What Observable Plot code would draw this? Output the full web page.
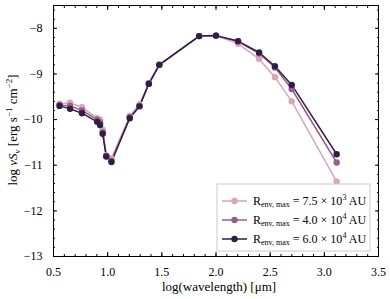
<!DOCTYPE html>
<html>
<head>
<meta charset="utf-8">
<script src="https://cdn.jsdelivr.net/npm/d3@7"></script>
<script src="https://cdn.jsdelivr.net/npm/@observablehq/plot@0.6"></script>
<style>
  body { margin: 0; background: white; }
  #chart { position: relative; width: 390px; height: 299px; }
</style>
</head>
<body>
<div id="chart"></div>
<script>
// log(wavelength) [μm]
const logWave = [0.556, 0.653, 0.763, 0.903, 0.930, 0.954, 0.987, 1.035, 1.204, 1.294, 1.380, 1.477, 1.845, 2.000, 2.204, 2.398, 2.544, 2.699, 3.114];
// log νSν for each model
const sedSmall = [-9.655, -9.63, -9.73, -9.97, -10.00, -10.22, -10.78, -10.85, -9.92, -9.67, -9.20, -8.79, -8.17, -8.16, -8.34, -8.67, -9.07, -9.60, -11.36];
const sedMid   = [-9.68, -9.70, -9.80, -10.00, -10.06, -10.28, -10.80, -10.90, -9.95, -9.70, -9.215, -8.80, -8.17, -8.16, -8.29, -8.55, -8.86, -9.33, -10.94];
const sedLarge = [-9.70, -9.765, -9.86, -10.05, -10.12, -10.31, -10.81, -10.93, -9.97, -9.71, -9.215, -8.80, -8.17, -8.16, -8.28, -8.53, -8.83, -9.24, -10.76];
const seriesNames = ["7.5e3", "4.0e4", "6.0e4"];
const legendMantissa = ["7.5", "4.0", "6.0"];
const legendExponent = ["3", "4", "4"];
const seriesColors = ["#d9a6b2", "#9a5b8d", "#2f1f47"];
const xMajor = [0.5, 1.0, 1.5, 2.0, 2.5, 3.0, 3.5];
const yMajor = [-13, -12, -11, -10, -9, -8];
const xMinor = d3.range(5, 36).map(d => d / 10);
const yMinor = d3.range(-65, -37).map(d => d / 5);

const allSeries = [sedSmall, sedMid, sedLarge];
const data = [];
allSeries.forEach((vals, i) => vals.forEach((v, j) => data.push({series: seriesNames[i], x: logWave[j], y: v})));

const font = "'Liberation Serif', 'DejaVu Serif', serif";
const blank = () => "";

const plot = Plot.plot({
  width: 390, height: 299,
  marginLeft: 53, marginRight: 12, marginTop: 5, marginBottom: 43,
  style: {fontFamily: font, fontSize: "12px", background: "white", color: "black"},
  x: {domain: [0.5, 3.5]},
  y: {domain: [-13, -7.5]},
  color: {domain: seriesNames, range: seriesColors},
  marks: [
    Plot.axisX({ticks: xMajor, tickSize: -4, tickPadding: 15, tickFormat: d3.format(".1f"), label: null}),
    Plot.axisX({ticks: xMinor, tickSize: -2, tickFormat: blank, label: null}),
    Plot.axisX({anchor: "top", ticks: xMajor, tickSize: -4, tickFormat: blank, label: null}),
    Plot.axisX({anchor: "top", ticks: xMinor, tickSize: -2, tickFormat: blank, label: null}),
    Plot.axisY({ticks: yMajor, tickSize: -4, tickPadding: 15, tickFormat: d3.format("d"), label: null}),
    Plot.axisY({ticks: yMinor, tickSize: -2, tickFormat: blank, label: null}),
    Plot.axisY({anchor: "right", ticks: yMajor, tickSize: -4, tickFormat: blank, label: null}),
    Plot.axisY({anchor: "right", ticks: yMinor, tickSize: -2, tickFormat: blank, label: null}),
    Plot.line(data, {x: "x", y: "y", z: "series", stroke: "series", strokeWidth: 1.5}),
    Plot.dot(data, {x: "x", y: "y", fill: "series", r: 3.2}),
    Plot.frame({stroke: "black", strokeWidth: 1})
  ]
});
document.getElementById("chart").appendChild(plot);

const svg = d3.select(plot);
// Axis labels
svg.append("text")
  .attr("x", 219).attr("y", 291)
  .attr("text-anchor", "middle")
  .attr("font-family", font).attr("font-size", 13)
  .text("log(wavelength) [μm]");

const yl = svg.append("text")
  .attr("transform", "translate(17,130) rotate(-90)")
  .attr("text-anchor", "middle")
  .attr("font-family", font).attr("font-size", 13);
yl.append("tspan").text("log ");
yl.append("tspan").text("ν").attr("font-style", "italic");
yl.append("tspan").text("S").attr("font-style", "italic");
yl.append("tspan").text("ν").attr("font-style", "italic").attr("font-size", 9).attr("dy", 3);
yl.append("tspan").text(" [erg s").attr("dy", -3);
yl.append("tspan").text("−1").attr("font-size", 9).attr("dy", -5);
yl.append("tspan").text(" cm").attr("dy", 5);
yl.append("tspan").text("−2").attr("font-size", 9).attr("dy", -5);
yl.append("tspan").text("]").attr("dy", 5);

// Legend
const lg = svg.append("g").attr("text-anchor", "start");
lg.append("rect").attr("x", 217).attr("y", 184).attr("width", 153).attr("height", 67)
  .attr("fill", "white").attr("fill-opacity", 0.85).attr("stroke", "#cccccc").attr("stroke-width", 1);
seriesNames.forEach((s, i) => {
  const yy = 201 + i * 19;
  lg.append("line").attr("x1", 222).attr("x2", 247).attr("y1", yy).attr("y2", yy)
    .attr("stroke", seriesColors[i]).attr("stroke-width", 1.5);
  lg.append("circle").attr("cx", 234.5).attr("cy", yy).attr("r", 3.2).attr("fill", seriesColors[i]);
  const t = lg.append("text").attr("x", 253).attr("y", yy + 4)
    .attr("text-anchor", "start")
    .attr("font-family", font).attr("font-size", 12);
  t.append("tspan").text("R");
  t.append("tspan").text("env, max").attr("font-size", 8).attr("dy", 2);
  t.append("tspan").text(" = " + legendMantissa[i] + " × 10").attr("dy", -2);
  t.append("tspan").text(legendExponent[i]).attr("font-size", 8).attr("dy", -5);
  t.append("tspan").text(" AU").attr("dy", 5);
});
</script>
</body>
</html>
